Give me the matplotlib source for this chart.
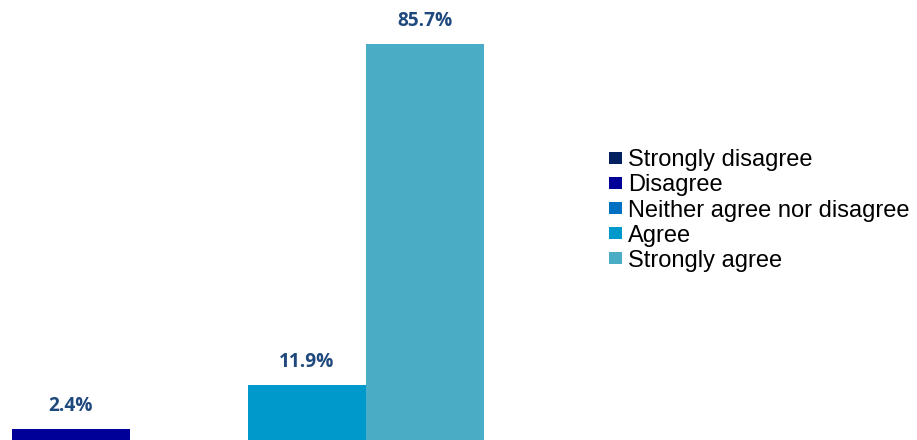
import matplotlib
matplotlib.use("Agg")
import matplotlib.pyplot as plt
from matplotlib.patches import Patch

categories = ["Strongly disagree", "Disagree", "Neither agree nor disagree",
              "Agree", "Strongly agree"]
values = [0.0, 2.4, 0.0, 11.9, 85.7]
colors = ["#002060", "#000099", "#0070C0", "#0099CC", "#4BACC6"]

fig = plt.figure(figsize=(9.17, 4.40), dpi=100)
ax = fig.add_axes([0, 0, 1, 1])

x = list(range(len(categories)))
bars = ax.bar(x, values, width=1.0, color=colors, linewidth=0)

for xi, v in zip(x, values):
    if v > 0:
        ax.annotate(f"{v:.1f}%", xy=(xi, v), xytext=(0, 23),
                    textcoords="offset pixels",
                    ha="center", va="center", fontsize=13.8, fontweight="bold",
                    color="#1F497D", family=["Open Sans", "DejaVu Sans"])

ax.set_xlim(0.399, 0.399 + 917 / 118)
ax.set_ylim(0, 95.2)
ax.axis("off")

handles = [Patch(facecolor=c, edgecolor="none", label=l)
           for c, l in zip(colors, categories)]
leg = ax.legend(handles=handles, loc="center left",
                bbox_to_anchor=(609 / 917, 1 - 210.5 / 440),
                frameon=False, handlelength=0.55, handleheight=0.42,
                handletextpad=0.25, labelspacing=0.13, borderaxespad=0,
                borderpad=0, prop={"family": "Liberation Sans", "size": 17.0})

fig.savefig("out.png", dpi=100)
